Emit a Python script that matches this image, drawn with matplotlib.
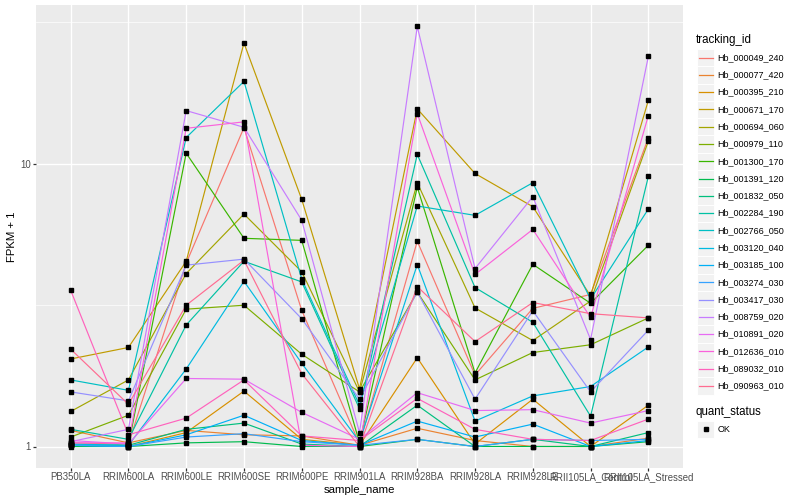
import matplotlib
matplotlib.use("Agg")
import matplotlib.pyplot as plt
from matplotlib.patches import Rectangle
import numpy as np

plt.rcParams['font.family'] = ['Liberation Sans', 'DejaVu Sans']

# ----------------- data -----------------
samples = ["PB350LA", "RRIM600LA", "RRIM600LE", "RRIM600SE", "RRIM600PE", "RRIM901LA",
           "RRIM928BA", "RRIM928LA", "RRIM928LE", "RRII105LA_Control", "RRII105LA_Stressed"]

tracking_ids = ["Hb_000049_240", "Hb_000077_420", "Hb_000395_210", "Hb_000671_170",
                "Hb_000694_060", "Hb_000979_110", "Hb_001300_170", "Hb_001391_120",
                "Hb_001832_050", "Hb_002284_190", "Hb_002766_050", "Hb_003120_040",
                "Hb_003185_100", "Hb_003274_030", "Hb_003417_030", "Hb_008759_020",
                "Hb_010891_020", "Hb_012636_010", "Hb_089032_010", "Hb_090963_010"]

hue_colors = ["#F8766D", "#EA8331", "#D89000", "#C09B00", "#A3A500", "#7CAE00", "#39B600",
              "#00BB4E", "#00BF7D", "#00C1A3", "#00BFC4", "#00BAE0", "#00B0F6", "#35A2FF",
              "#9590FF", "#C77CFF", "#E76BF3", "#FA62DB", "#FF62BC", "#FF6C91"]

# FPKM + 1, one list per gene, in sample order
hb_000049_240 = [1.03, 1.02, 4.45, 13.43, 3.03, 1.02, 5.32, 1.79, 3.08, 3.45, 12.35]
hb_000077_420 = [1.14, 1.03, 1.14, 1.10, 1.09, 1.01, 1.16, 1.05, 1.00, 1.00, 1.07]
hb_000395_210 = [1.01, 1.00, 1.12, 1.57, 1.06, 1.01, 2.06, 1.02, 1.47, 1.00, 1.40]
hb_000671_170 = [2.04, 2.24, 4.52, 26.73, 7.48, 1.60, 15.64, 9.24, 7.05, 3.41, 16.76]
hb_000694_060 = [1.33, 1.72, 4.09, 6.64, 4.15, 1.56, 8.57, 3.09, 2.37, 3.27, 12.02]
hb_000979_110 = [1.08, 1.29, 3.06, 3.16, 2.12, 1.56, 3.52, 1.72, 2.15, 2.29, 2.85]
hb_001300_170 = [1.01, 1.01, 10.90, 5.45, 5.36, 1.03, 8.27, 1.82, 4.41, 3.21, 5.15]
hb_001391_120 = [1.00, 1.00, 1.03, 1.04, 1.00, 1.00, 1.06, 1.00, 1.00, 1.00, 1.04]
hb_001832_050 = [1.01, 1.01, 1.15, 1.21, 1.02, 1.00, 1.40, 1.00, 1.06, 1.00, 1.12]
hb_002284_190 = [1.15, 1.06, 2.69, 4.52, 3.82, 1.36, 10.79, 3.65, 2.75, 1.28, 9.02]
hb_002766_050 = [1.72, 1.58, 12.38, 19.56, 3.91, 1.40, 7.09, 6.57, 8.57, 3.32, 6.92]
hb_003120_040 = [1.02, 1.01, 1.88, 3.84, 1.97, 1.04, 4.40, 1.23, 1.51, 1.63, 2.25]
hb_003185_100 = [1.01, 1.00, 1.10, 1.29, 1.05, 1.01, 1.23, 1.08, 1.20, 1.00, 1.05]
hb_003274_030 = [1.01, 1.00, 1.08, 1.11, 1.04, 1.01, 1.06, 1.00, 1.06, 1.05, 1.06]
hb_003417_030 = [1.56, 1.45, 4.38, 4.60, 2.83, 1.47, 3.52, 1.47, 3.02, 1.56, 2.58]
hb_008759_020 = [1.04, 1.15, 15.42, 13.46, 6.31, 1.12, 30.59, 4.26, 7.65, 2.39, 23.97]
hb_010891_020 = [1.05, 1.02, 1.74, 1.73, 1.32, 1.06, 1.55, 1.34, 1.35, 1.21, 1.34]
hb_012636_010 = [1.03, 1.03, 13.35, 14.07, 1.01, 1.00, 15.05, 4.06, 5.86, 2.86, 14.81]
hb_089032_010 = [3.57, 1.10, 1.26, 1.72, 1.09, 1.05, 1.48, 1.15, 1.06, 1.05, 1.25]
hb_090963_010 = [2.21, 1.41, 3.16, 4.56, 1.81, 1.00, 3.68, 2.35, 3.23, 2.95, 2.85]

series = [hb_000049_240, hb_000077_420, hb_000395_210, hb_000671_170, hb_000694_060,
          hb_000979_110, hb_001300_170, hb_001391_120, hb_001832_050, hb_002284_190,
          hb_002766_050, hb_003120_040, hb_003185_100, hb_003274_030, hb_003417_030,
          hb_008759_020, hb_010891_020, hb_012636_010, hb_089032_010, hb_090963_010]

# ----------------- figure -----------------
fig = plt.figure(figsize=(8, 5), dpi=100)
W, H = 800, 500
ax = fig.add_axes([36 / W, 32.5 / H, 647 / W, 462 / H])
ax.set_facecolor("#EBEBEB")
for s in ax.spines.values():
    s.set_visible(False)

x = np.arange(1, len(samples) + 1)
for vals, col in zip(series, hue_colors):
    ax.plot(x, vals, color=col, lw=0.85, zorder=3)
for vals in series:
    ax.plot(x, vals, ls="none", marker="s", ms=2.3, color="black", zorder=4)

ax.set_yscale("log")
allv = np.log10(np.concatenate([np.array(v) for v in series]))
lo, hi = allv.min(), allv.max()
pad = 0.05 * (hi - lo)
ax.set_ylim(10 ** (lo - pad), 10 ** (hi + pad))
ax.set_xlim(0.4, len(samples) + 0.6)

ax.set_yticks([1, 10])
ax.set_yticklabels(["1", "10"])
ax.set_yticks([10 ** 0.5, 10 ** 1.5], minor=True)
ax.yaxis.set_minor_formatter(plt.NullFormatter())
ax.set_xticks(x)
ax.set_xticklabels(samples)

ax.grid(True, which="major", color="white", lw=1.0, zorder=0)
ax.grid(True, which="minor", axis="y", color="white", lw=0.5, zorder=0)
ax.set_axisbelow(True)
ax.tick_params(which="major", length=2.0, width=0.9, color="#333333",
               labelsize=6.9, labelcolor="#4D4D4D", pad=1.6)
ax.tick_params(which="minor", length=0)

ax.set_xlabel("sample_name", fontsize=8.2, labelpad=2)
ax.set_ylabel("FPKM + 1", fontsize=8.2, labelpad=2)

# ----------------- legend -----------------
lax = fig.add_axes([0, 0, 1, 1])
lax.set_xlim(0, W)
lax.set_ylim(H, 0)
lax.axis("off")
lax.patch.set_alpha(0)

key = 17.28
kx = 697
ky0 = 49
lax.text(kx - 1, 40.5, "tracking_id", fontsize=8.3, va="center", ha="left")
for i, (name, col) in enumerate(zip(tracking_ids, hue_colors)):
    y0 = ky0 + i * key
    lax.add_patch(Rectangle((kx, y0), key, key, facecolor="#F2F2F2",
                            edgecolor="white", lw=0.7))
    lax.plot([kx + 1.7, kx + key - 1.7], [y0 + key / 2] * 2, color=col, lw=0.9)
    lax.text(kx + key + 3, y0 + key / 2, name, fontsize=6.5, va="center", ha="left")

qy = 411.5
lax.text(kx - 1, qy, "quant_status", fontsize=8.3, va="center", ha="left")
lax.add_patch(Rectangle((kx, qy + 9), key, key, facecolor="#F2F2F2",
                        edgecolor="white", lw=0.7))
lax.plot([kx + key / 2], [qy + 9 + key / 2], marker="s", ms=2.3, color="black")
lax.text(kx + key + 3, qy + 9 + key / 2, "OK", fontsize=6.5, va="center", ha="left")

fig.savefig("out.png", dpi=100)
